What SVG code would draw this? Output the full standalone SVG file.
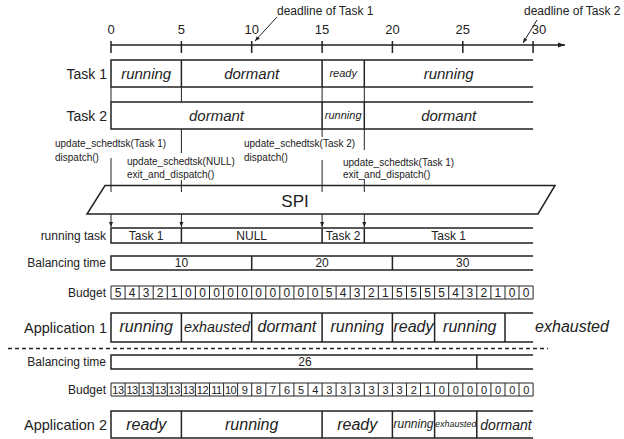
<svg xmlns="http://www.w3.org/2000/svg" width="624" height="439" viewBox="0 0 624 439">
<defs>
<marker id="ah" markerWidth="8" markerHeight="8" refX="7" refY="4" orient="auto" markerUnits="userSpaceOnUse"><path d="M0,1.5 L7,4 L0,6.5 Z" fill="#222"/></marker>
<marker id="sa" markerWidth="6" markerHeight="6" refX="5" refY="3" orient="auto" markerUnits="userSpaceOnUse"><path d="M0,1 L5,3 L0,5 Z" fill="#222"/></marker>
</defs>
<style>
text{font-family:"Liberation Sans",Arial,sans-serif;fill:#222}
.ln{stroke:#222;stroke-width:1.5;fill:none}
.thin{stroke:#222;stroke-width:1;fill:none}
.it{font-style:italic;text-anchor:middle}
.m{text-anchor:middle}
.lbl{text-anchor:end}
.s10{font-size:10px}
.s11{font-size:11px}
.s12{font-size:12px}
.s13{font-size:13px}
.s14{font-size:14px}
.s15{font-size:15px}
.s16{font-size:16px}
</style>
<rect width="624" height="439" fill="#fff"/>

<g id="axis">
<line class="ln" x1="111" y1="45" x2="565" y2="45" marker-end="url(#ah)" stroke-width="1.2"/>
<path class="ln" stroke-width="1.2" d="M111,41V53M181.4,41V53M251.7,41V53M322.1,41V53M392.4,41V53M462.8,41V53M533.1,41V53"/>
<text class="m s13" x="111" y="34">0</text>
<text class="m s13" x="181.4" y="34">5</text>
<text class="m s13" x="251.7" y="34">10</text>
<text class="m s13" x="322.1" y="34">15</text>
<text class="m s13" x="392.4" y="34">20</text>
<text class="m s13" x="462.8" y="34">25</text>
<text class="m s13" x="539" y="34">30</text>
</g>

<g id="deadline1">
<text class="s12" x="277" y="15">deadline of Task 1</text>
<line class="thin" x1="277" y1="17" x2="255" y2="41" marker-end="url(#sa)"/>
</g>
<g id="deadline2">
<text class="s12" x="524" y="15">deadline of Task 2</text>
<line class="thin" x1="537" y1="20" x2="523" y2="43" marker-end="url(#sa)"/>
</g>

<g id="task1">
<text class="lbl s14" x="107" y="79">Task 1</text>
<path class="ln" d="M533.1,60H111V87H533.1M322.1,60V87M364.3,60V87"/>
<line class="ln" x1="181.4" y1="60" x2="181.4" y2="87" stroke-width="2.5"/>
<text class="it s15" x="146.2" y="79">running</text>
<text class="it s15" x="251.7" y="79">dormant</text>
<text class="it s11" x="343.2" y="77">ready</text>
<text class="it s15" x="448.7" y="79">running</text>
</g>

<g id="task2">
<text class="lbl s14" x="107" y="121">Task 2</text>
<path class="ln" d="M533.1,102H111V129H533.1M322.1,102V129M364.3,102V129"/>
<text class="it s15" x="216.5" y="121">dormant</text>
<text class="it s11" x="343.2" y="119">running</text>
<text class="it s15" x="448.7" y="121">dormant</text>
</g>

<g id="calls">
<text class="s10" x="55" y="147">update_schedtsk(Task 1)</text>
<text class="s10" x="55" y="161">dispatch()</text>
<text class="s10" x="127" y="165">update_schedtsk(NULL)</text>
<text class="s10" x="127" y="178">exit_and_dispatch()</text>
<text class="s10" x="244" y="147">update_schedtsk(Task 2)</text>
<text class="s10" x="244" y="161">dispatch()</text>
<text class="s10" x="343" y="166">update_schedtsk(Task 1)</text>
<text class="s10" x="343" y="178">exit_and_dispatch()</text>
</g>

<g id="spi">
<polygon class="ln" points="105,185.5 555,185.5 538,214 87,214"/>
<text class="m" x="295" y="207" font-size="17">SPI</text>
</g>

<g id="connectors">
<path class="thin" stroke-width="1.2" d="M111,87V102M181.4,87V102M322.1,87V102M364.3,87V102M111,158V192M181.4,129V153M181.4,180V192M322.1,129V137M322.1,160V192M364.3,129V150M364.3,179V192"/>
<line class="thin" x1="111" y1="214" x2="111" y2="227" marker-end="url(#sa)"/>
<line class="thin" x1="181.4" y1="214" x2="181.4" y2="227" marker-end="url(#sa)"/>
<line class="thin" x1="322.1" y1="214" x2="322.1" y2="227" marker-end="url(#sa)"/>
<line class="thin" x1="364.3" y1="214" x2="364.3" y2="227" marker-end="url(#sa)"/>
</g>

<g id="runningtask">
<text class="lbl s12" x="106" y="240">running task</text>
<path class="ln" stroke-width="1.3" d="M533.1,228H111V243H533.1M181.4,228V243M322.1,228V243M364.3,228V243"/>
<text class="m s12" x="146.2" y="240">Task 1</text>
<text class="m s12" x="251.7" y="240">NULL</text>
<text class="m s12" x="343.2" y="240">Task 2</text>
<text class="m s12" x="448.7" y="240">Task 1</text>
</g>

<g id="balancing1">
<text class="lbl s12" x="106" y="267">Balancing time</text>
<path class="ln" stroke-width="1.3" d="M533.1,256H111V270H533.1M251.7,256V270M392.4,256V270"/>
<text class="m s12" x="181.4" y="267">10</text>
<text class="m s12" x="322.1" y="267">20</text>
<text class="m s12" x="462.8" y="267">30</text>
</g>

<g id="budget1">
<text class="lbl s12" x="106" y="297">Budget</text>
<path class="thin" d="M111,286H533.1M111,299H533.1M111,286V299M125.1,286V299M139.1,286V299M153.2,286V299M167.3,286V299M181.4,286V299M195.4,286V299M209.5,286V299M223.6,286V299M237.6,286V299M251.7,286V299M265.8,286V299M279.8,286V299M293.9,286V299M308,286V299M322.1,286V299M336.1,286V299M350.2,286V299M364.3,286V299M378.3,286V299M392.4,286V299M406.5,286V299M420.5,286V299M434.6,286V299M448.7,286V299M462.8,286V299M476.8,286V299M490.9,286V299M505,286V299M519,286V299M533.1,286V299"/>
<g class="m s12">
<text class="m" x="118" y="297">5</text><text class="m" x="132.1" y="297">4</text><text class="m" x="146.2" y="297">3</text><text class="m" x="160.2" y="297">2</text><text class="m" x="174.3" y="297">1</text>
<text class="m" x="188.4" y="297">0</text><text class="m" x="202.5" y="297">0</text><text class="m" x="216.5" y="297">0</text><text class="m" x="230.6" y="297">0</text><text class="m" x="244.7" y="297">0</text>
<text class="m" x="258.7" y="297">0</text><text class="m" x="272.8" y="297">0</text><text class="m" x="286.9" y="297">0</text><text class="m" x="300.9" y="297">0</text><text class="m" x="315" y="297">0</text>
<text class="m" x="329.1" y="297">5</text><text class="m" x="343.2" y="297">4</text><text class="m" x="357.2" y="297">3</text><text class="m" x="371.3" y="297">2</text><text class="m" x="385.4" y="297">1</text>
<text class="m" x="399.4" y="297">5</text><text class="m" x="413.5" y="297">5</text><text class="m" x="427.6" y="297">5</text><text class="m" x="441.6" y="297">5</text><text class="m" x="455.7" y="297">4</text>
<text class="m" x="469.8" y="297">3</text><text class="m" x="483.9" y="297">2</text><text class="m" x="497.9" y="297">1</text><text class="m" x="512" y="297">0</text><text class="m" x="526.1" y="297">0</text>
</g>
</g>

<g id="application1">
<text class="lbl" x="107" y="333" font-size="14.5">Application 1</text>
<path class="ln" d="M533.1,313H111V342H533.1M181.4,313V342M251.7,313V342M322.1,313V342M392.4,313V342M434.6,313V342M505,313V342"/>
<text class="it s16" x="146.2" y="332">running</text>
<text class="it" x="217" y="332" font-size="14.3">exhausted</text>
<text class="it s16" x="286.9" y="332">dormant</text>
<text class="it s16" x="357.2" y="332">running</text>
<text class="it s16" x="413.5" y="332">ready</text>
<text class="it s16" x="469.8" y="332">running</text>
<text class="it s16" x="572" y="332">exhausted</text>
</g>

<line id="separator" x1="8" y1="348.5" x2="548" y2="348.5" stroke="#222" stroke-width="1.3" stroke-dasharray="4,3"/>

<g id="balancing2">
<text class="lbl s12" x="106" y="366">Balancing time</text>
<path class="ln" stroke-width="1.3" d="M533.1,355H111V369H533.1M476.8,355V369"/>
<text class="m s12" x="305" y="366">26</text>
</g>

<g id="budget2">
<text class="lbl s12" x="106" y="394">Budget</text>
<path class="thin" d="M111,383H533.1M111,396H533.1M111,383V396M125.1,383V396M139.1,383V396M153.2,383V396M167.3,383V396M181.4,383V396M195.4,383V396M209.5,383V396M223.6,383V396M237.6,383V396M251.7,383V396M265.8,383V396M279.8,383V396M293.9,383V396M308,383V396M322.1,383V396M336.1,383V396M350.2,383V396M364.3,383V396M378.3,383V396M392.4,383V396M406.5,383V396M420.5,383V396M434.6,383V396M448.7,383V396M462.8,383V396M476.8,383V396M490.9,383V396M505,383V396M519,383V396M533.1,383V396"/>
<g font-size="11" letter-spacing="-0.4">
<text class="m" x="118" y="394">13</text><text class="m" x="132.1" y="394">13</text><text class="m" x="146.2" y="394">13</text><text class="m" x="160.2" y="394">13</text><text class="m" x="174.3" y="394">13</text>
<text class="m" x="188.4" y="394">13</text><text class="m" x="202.5" y="394">12</text><text class="m" x="216.5" y="394">11</text><text class="m" x="230.6" y="394">10</text><text class="m" x="244.7" y="394">9</text>
<text class="m" x="258.7" y="394">8</text><text class="m" x="272.8" y="394">7</text><text class="m" x="286.9" y="394">6</text><text class="m" x="300.9" y="394">5</text><text class="m" x="315" y="394">4</text>
<text class="m" x="329.1" y="394">3</text><text class="m" x="343.2" y="394">3</text><text class="m" x="357.2" y="394">3</text><text class="m" x="371.3" y="394">3</text><text class="m" x="385.4" y="394">3</text>
<text class="m" x="399.4" y="394">3</text><text class="m" x="413.5" y="394">2</text><text class="m" x="427.6" y="394">1</text><text class="m" x="441.6" y="394">0</text><text class="m" x="455.7" y="394">0</text>
<text class="m" x="469.8" y="394">0</text><text class="m" x="483.9" y="394">0</text><text class="m" x="497.9" y="394">0</text><text class="m" x="512" y="394">0</text><text class="m" x="526.1" y="394">0</text>
</g>
</g>

<g id="application2">
<text class="lbl" x="107" y="430" font-size="14.5">Application 2</text>
<path class="ln" d="M533.1,411H111V438H533.1M181.4,411V438M322.1,411V438M392.4,411V438M434.6,411V438M476.8,411V438"/>
<text class="it s16" x="146.2" y="430">ready</text>
<text class="it s16" x="251.7" y="430">running</text>
<text class="it s16" x="357.2" y="430">ready</text>
<text class="it s12" x="413.5" y="428">running</text>
<text class="it" x="455.7" y="427" font-size="9">exhausted</text>
<text class="it s14" x="506" y="430">dormant</text>
</g>
</svg>
